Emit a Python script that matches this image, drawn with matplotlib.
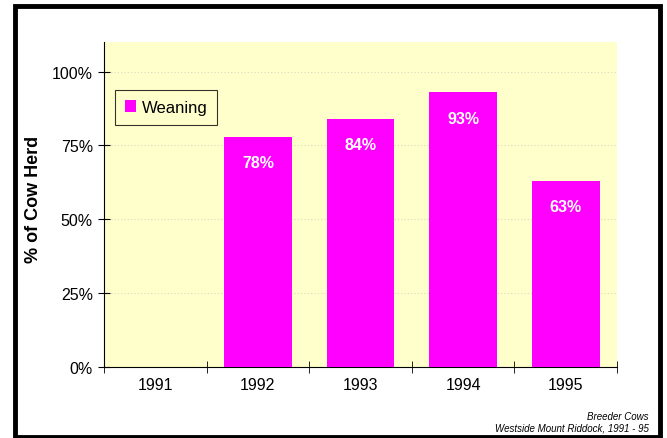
import matplotlib
matplotlib.use("Agg")
import matplotlib.pyplot as plt
from matplotlib.patches import Rectangle
import numpy as np

plt.rcParams['font.family'] = ['Liberation Sans', 'DejaVu Sans']

years = ['1991', '1992', '1993', '1994', '1995']
weaning = [None, 0.78, 0.84, 0.93, 0.63]
labels = ['', '78%', '84%', '93%', '63%']
yticks = [0, 0.25, 0.5, 0.75, 1.0]
ytick_labels = ['0%', '25%', '50%', '75%', '100%']

fig = plt.figure(figsize=(6.67, 4.39), dpi=100)
ax = fig.add_axes([0.156, 0.162, 0.769, 0.740])
ax.set_facecolor('#ffffcc')

x = np.arange(len(years))
vals = [v if v is not None else 0 for v in weaning]
bars = ax.bar(x, vals, width=0.66, color='#ff00ff', label='Weaning', zorder=3)
for xi, v, lab in zip(x, vals, labels):
    if lab:
        ax.text(xi, v - 0.088, lab, ha='center', va='center', color='white',
                fontsize=11.5, fontweight='bold', zorder=4)

ax.set_xlim(-0.5, len(years) - 0.5)
ax.set_ylim(0, 1.1)
ax.set_yticks(yticks)
ax.set_yticklabels(ytick_labels, fontsize=11.5)
ax.set_xticks(x)
ax.set_xticklabels(years, fontsize=11.5)
ax.set_xticks(np.arange(-0.5, len(years)), minor=True)
ax.tick_params(axis='x', which='major', length=0, pad=7)
ax.tick_params(axis='x', which='minor', length=8, direction='inout')
ax.tick_params(axis='y', length=8, direction='inout', pad=4)
for yt in yticks[1:]:
    ax.axhline(yt, color='#d8d8c0', lw=0.8, ls=(0, (1, 2)), zorder=1)

for side in ['top', 'right']:
    ax.spines[side].set_visible(False)
ax.spines['left'].set_linewidth(0.8)
ax.spines['bottom'].set_linewidth(0.8)
ax.set_ylabel('% of Cow Herd', fontsize=13, fontweight='bold')
ax.yaxis.set_label_coords(-0.121, 0.52)

leg = ax.legend(loc='upper left', bbox_to_anchor=(0.021, 0.852), fontsize=12,
                frameon=True, fancybox=False, handlelength=0.7, handleheight=0.7,
                handletextpad=0.3, borderpad=0.6, borderaxespad=0,
                facecolor='#ffffcc', edgecolor='black')
leg.get_frame().set_linewidth(0.8)

fig.text(0.973, 0.050, 'Breeder Cows', ha='right', va='center', fontsize=7,
         style='italic')
fig.text(0.973, 0.024, 'Westside Mount Riddock, 1991 - 95', ha='right',
         va='center', fontsize=7, style='italic')

fig.patches.append(Rectangle((0.022, 0.003), 0.968, 0.980, transform=fig.transFigure,
                             fill=False, edgecolor='black', lw=3.5))

fig.savefig('out.png', dpi=100)
